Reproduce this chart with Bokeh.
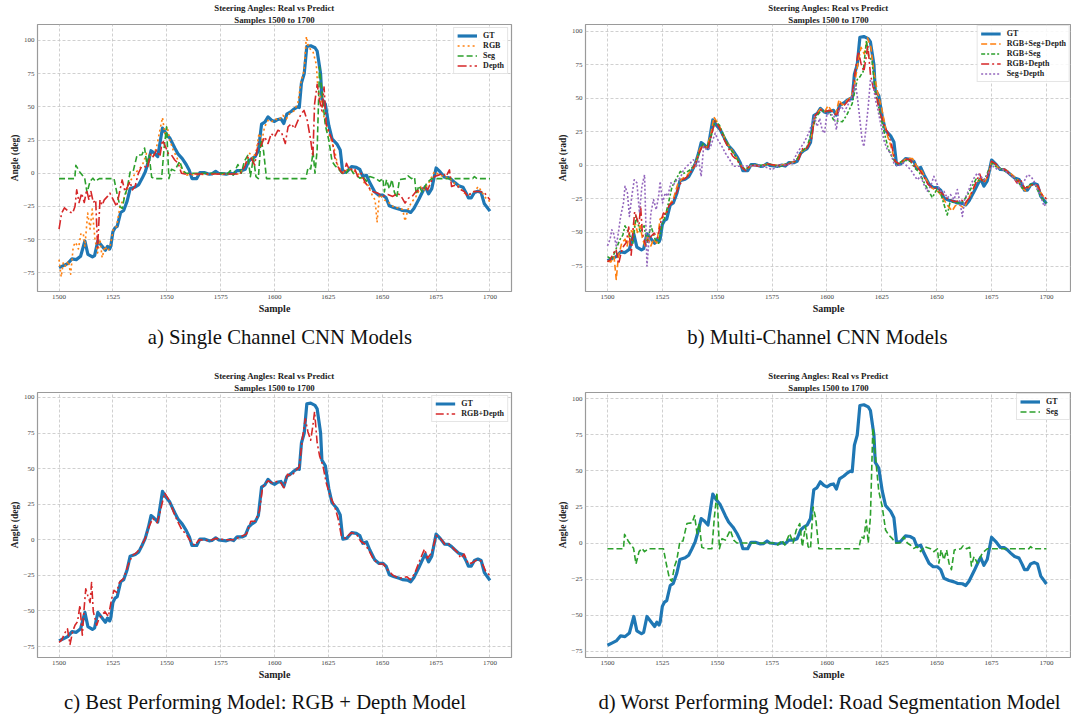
from bokeh.plotting import figure
from bokeh.models import Title, FixedTicker, Div, Range1d
from bokeh.layouts import column, row
from bokeh.embed import file_html
from bokeh.resources import INLINE

SERIF = "Liberation Serif"

# ---------------- data ----------------
x_ticks = [1500, 1525, 1550, 1575, 1600, 1625, 1650, 1675, 1700]
y_ticks = [-75, -50, -25, 0, 25, 50, 75, 100]

gt_x = [1500, 1502, 1504, 1506, 1508, 1510, 1512, 1513.4, 1515.5, 1516.5, 1518, 1520, 1521.5, 1522.5, 1523.5, 1524,
        1525, 1526, 1527, 1528.6, 1530, 1531.6, 1533, 1535.4, 1537, 1538.5, 1540, 1541.5, 1542.7, 1544, 1545.8,
        1548, 1549.6, 1551.4, 1553.7, 1555.2, 1557.2, 1559, 1560.5, 1561.7, 1563.9, 1565.4, 1567.4, 1569.7, 1571,
        1572.7, 1574, 1577.6, 1579.5, 1581, 1582.6, 1584.9, 1586.4, 1588, 1589.4, 1591, 1592.5, 1594, 1595.5, 1597,
        1598.6, 1600, 1601.6, 1603, 1604.3, 1605.7, 1607.7, 1609.2, 1610.7, 1611.5, 1612.5, 1613.8, 1615, 1616.8,
        1618.8, 1619.8, 1621.4, 1622, 1623.6, 1625.2, 1626.7, 1629, 1630.5, 1631.7, 1633.5, 1635.8, 1638, 1639.6,
        1641, 1642.7, 1644.2, 1646.5, 1648.4, 1650.3, 1651.8, 1653.3, 1655.6, 1657.9, 1659.4, 1661.7, 1663.2, 1664.7,
        1667, 1669.3, 1670, 1671.5, 1673, 1675, 1676.9, 1678.9, 1680.7, 1682.2, 1683.7, 1685.5, 1687.5, 1689, 1690,
        1691.3, 1692.8, 1694.4, 1695.9, 1697.4, 1700]
gt_y = [-71, -69.5, -68, -64.5, -65, -62.5, -51, -61, -63, -62, -51, -55, -58, -55, -57, -55,
        -44, -41, -40, -29.5, -28, -21, -11.5, -10.3, -8.5, -4, 1, 9, 17, 15.5, 12.5,
        34, 30, 26.5, 19, 14.6, 11, 6.6, 2, -4, -4, 0.5, 0.5, -0.7, -0.5,
        1.4, 0, -0.7, 0.2, -0.5, 2, 2, 3, 9, 11, 12.5, 17, 37, 38.5, 42.5,
        40, 39, 40.5, 41, 37.5, 44.5, 46.5, 48.5, 50, 49.5, 68, 75, 95.5, 96,
        94.5, 92, 75, 56, 52, 36, 26, 22, 17.5, 0.5, 1, 5, 4.5, 3,
        -2.5, -1.5, -7, -14, -16.5, -16.5, -18.5, -24.5, -26, -27, -28, -28.3, -29.5, -26.5,
        -19.5, -12, -10, -15.5, -11.5, 4, 1, -3, -3.2, -4.8, -7, -9.4, -10.5, -15, -18.5,
        -18.5, -14.5, -13.5, -14.5, -23, -28.5]

rgb_x = [1500, 1501, 1502, 1503.1, 1504.3, 1505.4, 1506.6, 1507.7, 1509, 1510.2, 1511.3, 1512, 1513.3, 1514.4,
         1515.4, 1516.7, 1517.9, 1519, 1520, 1521.3, 1522.5, 1523.6, 1525.2, 1526.7, 1528.3, 1529.8, 1531.4,
         1532.9, 1534.4, 1536, 1537.5, 1539, 1540.6, 1542.2, 1543.7, 1545.3, 1546.5, 1548, 1549.1, 1550.2, 1551.4,
         1553, 1554.5, 1556.1, 1557.6, 1559.2, 1570, 1583, 1584.6, 1586.9, 1588.5, 1590, 1591.6, 1592.8, 1594.2,
         1595.4, 1597, 1598.5, 1600.4, 1601.9, 1603.9, 1605.5, 1607, 1609.3, 1610.9, 1612.4, 1613.7, 1614.8, 1615.8,
         1617.8, 1619.4, 1620.2, 1621.4, 1623, 1624.5, 1626.3, 1627.9, 1629.4, 1631, 1632.5, 1634, 1636.4, 1638.4,
         1640.2, 1641.8, 1643.3, 1645.6, 1646.7, 1647.6, 1648.7, 1651, 1653.3, 1655.7, 1658, 1659.5, 1660.6, 1661.9,
         1663.4, 1665.7, 1668, 1669.6, 1671.9, 1674.2, 1676.5, 1678.8, 1681.2, 1683.5, 1685.8, 1688.1, 1690.4,
         1692.7, 1694.6, 1696.6, 1698.6, 1700]
rgb_y = [-65, -78, -67, -70, -66, -76, -55, -52, -57, -45, -46, -55, -30, -42,
         -27, -50, -60, -50, -63.5, -55, -58.5, -56, -42, -40, -25, -20, -13.7,
         -6.2, -2.5, 1.2, 3.7, 7.5, 15, 13.7, 12.5, 20, 30, 42, 30, 35, 25,
         17.4, 12.5, 6.2, 1.2, -1.2, -0.8, -0.5, 1.2, 7.5, 15, 11, 17.4, 30, 25,
         35, 39.8, 38.6, 41, 39.8, 43.6, 41, 44.8, 47.3, 53.5, 69.7, 77, 103, 94.6,
         92, 82, 62, 57, 42, 33.6, 25, 17.4, 5, 2.5, 0, 3.7, 2.5, 0,
         -2.5, -7.5, -8.7, -17.4, -20, -37, -16, -20, -22.4, -26, -26, -27.4, -36, -27.4,
         -22.4, -17.4, -10, -12.5, -6.2, 1.2, -1.2, -2.5, -3.7, -7.5, -10, -15, -16,
         -13.7, -10, -15, -20, -21]

seg_x = [1500, 1507.3, 1507.8, 1509.6, 1511.9, 1513, 1514.4, 1515.7, 1516.9, 1518.7, 1525.5, 1527, 1528.3, 1529.3,
         1530.6, 1531.6, 1533, 1534.4, 1536.2, 1538.5, 1539.7, 1540.8, 1541.8, 1543, 1544.6, 1547.6, 1548.7, 1549.9,
         1551, 1552.2, 1553.7, 1556, 1557.5, 1559, 1577, 1577.6, 1579.5, 1580.8, 1583, 1584.6, 1586, 1587.6, 1588.8,
         1590.2, 1591.4, 1592.5, 1593.7, 1594.9, 1596.3, 1614.5, 1615.6, 1616.8, 1617.9, 1618.8, 1619.8, 1620.9,
         1622, 1623.6, 1625.2, 1626.7, 1628.2, 1629.7, 1631.3, 1633.2, 1635, 1636.6, 1638, 1639.6, 1641, 1642.7,
         1644.2, 1647.2, 1648.7, 1650.3, 1651, 1652, 1653.3, 1654.5, 1655.6, 1656.7, 1658, 1661, 1662, 1663.6, 1665,
         1665.8, 1667, 1668.5, 1670.8, 1673, 1692, 1692.8, 1694, 1700]
seg_y = [-4, -4, 6, 1, -3.7, -14.5, -6, -3.7, -6, -4, -4, -16, -25, -26.5,
         -16, -11.7, 1, 1.4, 13.5, 14, 19, 6.6, 13.5, -3, -4, -4, 18, 35,
         -4, 3, 2, 9, 2, 0, 0, -1.4, 2, -1.4, 6.6, 0, 9, 13.5, -2.5,
         11.7, -2.5, -4, 25, 17, -4, -4, 4.3, 3.2, 16, 0, 18, 80,
         61.5, 36, 25, 9, 5.5, 3.2, 0, 0, 4.3, 0, -1.4, -3.7, -2.5, -6,
         -2.5, -4, -6, -4, -14, -4.8, -11.7, -4.8, -14, -18.5, -4.8, -4, -2, -4, -3,
         -16, -9.4, -14, -7, -4, -4, -2.5, -4, -4]

depth_x = [1500, 1501.2, 1502.5, 1504.3, 1506.3, 1507.4, 1508.2, 1509.3, 1510.5, 1511.7, 1512.8, 1513.9, 1514.8,
           1515.9, 1517, 1517.9, 1519, 1520, 1521, 1522.5, 1523.6, 1525.2, 1526.7, 1528.3, 1529.3, 1530.6, 1531.8,
           1532.9, 1534.1, 1535.3, 1536.8, 1538.3, 1539.8, 1541, 1542.5, 1543.7, 1545.3, 1546.8, 1548, 1549.4,
           1550.7, 1552.2, 1553.7, 1555.3, 1556.8, 1558.4, 1584, 1584.6, 1586.2, 1587.7, 1589.3, 1590.8, 1592.4,
           1593.6, 1595.4, 1597, 1598.5, 1600, 1601.6, 1603.2, 1605, 1606.3, 1607.8, 1609.3, 1610.9, 1612.4, 1613.7,
           1615.2, 1616.8, 1617.8, 1618.6, 1619.8, 1620.9, 1622, 1623, 1624, 1625.6, 1626.8, 1627.9, 1629.4, 1631,
           1632.2, 1633.4, 1634.8, 1637.1, 1638.7, 1640.2, 1641.8, 1643.3, 1645.6, 1648, 1650.3, 1652.6, 1654.9,
           1657.2, 1658.8, 1660.6, 1662.2, 1663.9, 1665.7, 1667.3, 1669.6, 1671.1, 1672.7, 1674.2, 1676.5, 1678.1,
           1679.6, 1681.2, 1682.2, 1684.2, 1686.6, 1688.1, 1689.7, 1691.2, 1692.7, 1695, 1697.3, 1700]
depth_y = [-42, -30, -26, -28.6, -30, -25, -12.5, -22, -15, -22, -12.5, -20, -13.7,
           -22, -20, -56, -20, -24, -20, -17.4, -15, -20, -25, -12.5, -5, -13.7, -10,
           -6.2, -12.5, -10, 0, 5, 5, 3.7, 15, 12.5, 17.4, 12.5, 25, 20,
           15, 13.7, 10, 7.5, 0, -0.5, -0.5, 1.2, 5, 12.5, 11, 6.2, 22.4,
           20, 27.4, 22.4, 30, 27.4, 32.4, 31, 22.4, 35, 37.3, 33.6, 39.8, 44.8, 47.3,
           39.8, 25, 12.5, 52, 67, 55, 47, 65, 37, 30, 25, 12.5, 5, 1,
           -0.5, 7.5, 2.5, 3.7, -2.5, 0, -6, -10, -13.7, -15, -17.4, -16, -17.4,
           -15, -17.4, -22.4, -18.7, -17.4, -13.7, -12.5, -10, -12.5, -6.2, -2.5, -1.2, 0,
           -2.5, 2.5, -10, -8.7, -12.5, -13.7, -17.4, -15, -13.7, -13.7, -14.4, -20]

rsd_x = [1500, 1501.5, 1503, 1504, 1505, 1506.5, 1508, 1509, 1510.3, 1511.6, 1512.6, 1513.7, 1514.9, 1516, 1517.2,
         1518.2, 1519.8, 1521, 1522.5, 1524, 1526, 1528, 1530, 1532, 1534, 1536, 1538, 1540, 1542, 1543, 1545,
         1547, 1548.5, 1550, 1552, 1554, 1556, 1558, 1560, 1562, 1564, 1566, 1570, 1573, 1576, 1580, 1583, 1586,
         1588, 1591, 1593, 1594.5, 1597, 1599, 1600.5, 1602, 1604, 1605.5, 1607, 1609, 1611, 1612.5, 1614, 1615.5,
         1617, 1618.5, 1620, 1621.5, 1623, 1625, 1627, 1629, 1631, 1633, 1636, 1639, 1641, 1643, 1645, 1647, 1649,
         1651, 1653, 1655, 1657, 1658.5, 1660, 1662.5, 1664, 1666, 1668, 1670, 1672, 1673.5, 1675, 1677, 1679, 1681,
         1683, 1685, 1687, 1689, 1690.5, 1692.5, 1694.5, 1696, 1698, 1700]
rsd_y = [-71, -72, -68, -85, -68, -58, -55, -60, -48, -50, -43, -50, -45, -55, -60,
         -52, -60, -55, -58, -40, -38, -30, -25, -14, -10, -8, -4, 0, 12, 15, 13,
         22, 36, 32, 26, 18, 13, 8, 2, -3, -2, 0.5, -0.5, 1, 0, 0.5, 2, 3,
         10, 13, 22, 37, 42, 40, 44.5, 41, 38, 49, 45, 48, 51, 60, 75, 88,
         83, 95, 88, 68, 55, 42, 25, 15, 3, 1, 5, 5, -1, -4, -10, -16, -18,
         -20, -25, -30, -34, -30, -29, -32, -26, -20, -13, -10, -12, -7, 3, 0, -3, -3,
         -5, -8, -11, -17, -19, -15, -14, -16, -22, -25]

rs_x = [1500, 1502, 1504, 1505.8, 1507, 1508, 1509.6, 1511.6, 1513, 1515, 1516.7, 1518, 1519.8, 1521.7, 1523.3,
        1524.8, 1526.3, 1527.8, 1529.4, 1531, 1533.2, 1534.5, 1536, 1538, 1540, 1542, 1543.5, 1545, 1547, 1549,
        1551, 1553, 1555, 1557, 1559, 1561, 1563, 1565, 1570, 1574, 1578, 1582, 1585, 1587, 1589, 1591, 1593,
        1595, 1597, 1599, 1601, 1603, 1605, 1607, 1609, 1611.5, 1613.8, 1615, 1616.5, 1618, 1619, 1620.5, 1622,
        1624, 1626, 1628, 1630, 1632, 1635, 1638, 1640, 1642, 1644, 1646, 1648, 1650, 1652, 1654.8, 1656, 1658,
        1660, 1662, 1664, 1666, 1668, 1670, 1672, 1674, 1675.5, 1677, 1680, 1683, 1685, 1687, 1689, 1691, 1693,
        1695, 1697, 1699, 1700]
rs_y = [-68, -70, -62, -55, -52, -45, -50, -58, -38, -50, -45, -58, -45, -55, -58,
        -45, -38, -28, -16, -11, -4.5, -6, -5, -3, 2, 10, 16, 13, 20, 33,
        30, 22, 15, 10, 5, -1, -3, 0, 0, 1, -1, 1.5, 2, 6, 11, 14, 25,
        36, 40, 41, 40, 34, 33, 32.5, 37.5, 46, 64, 66, 70, 93, 81, 78, 55,
        40, 25, 12, 5, 1, 4, 3, -2, -5, -12, -18, -24, -18, -22, -37, -28, -27,
        -28, -27, -22, -16, -10, -12, -10, -2, 2, -1, -3, -6, -9, -12, -17, -16, -14,
        -15, -22, -27, -28]

rd_x = [1500, 1501.2, 1502.5, 1503.9, 1505.1, 1506.3, 1507.4, 1508.6, 1509.7, 1510.8, 1511.7, 1512.4, 1513.3,
        1514.4, 1515.1, 1515.9, 1517.5, 1518.5, 1519.8, 1521.3, 1522.9, 1524.4, 1525.5, 1526.7, 1528, 1530, 1532,
        1534, 1536, 1538, 1540, 1542, 1543.5, 1545.5, 1547, 1549, 1551, 1553, 1555, 1557, 1559, 1561, 1563, 1565,
        1570, 1573, 1577, 1581, 1584, 1587, 1589, 1591, 1593, 1594.5, 1597, 1599, 1601, 1603, 1604.4, 1606, 1608,
        1610, 1611.5, 1613, 1614.3, 1615.5, 1616.8, 1617.8, 1618.6, 1619.8, 1621, 1622.5, 1624, 1626, 1627.9,
        1629.5, 1631, 1633, 1635.5, 1638, 1640, 1642, 1644, 1646, 1648.5, 1650.5, 1652.5, 1655, 1658, 1660, 1661.5,
        1663, 1665, 1667, 1669.6, 1671, 1673, 1675, 1677, 1679, 1681, 1683, 1685, 1686.5, 1688, 1690, 1692, 1694,
        1696, 1698, 1700]
rd_y = [-72, -70.5, -66, -62.5, -73.5, -64.5, -60, -57.5, -46, -67, -47, -34.5, -39,
        -44, -30, -50.5, -60, -55.5, -53, -50.5, -54, -41.5, -35.5, -37, -30, -27, -18,
        -11, -9, -5, 1, 10, 15, 12, 20, 33, 28, 20, 13, 7, 4, -1, -4, 0,
        -0.5, 1, 0, 0, 2, 4, 13, 13, 20, 37, 41.5, 40, 41, 40, 36.5, 46, 45,
        49, 51, 72, 85, 76, 70, 80, 90, 68, 58.5, 52, 40, 30, 23.7,
        15, 3, 1, 5, 4, -1, -3, -8, -14, -17, -17, -21, -25, -27, -26.5, -26,
        -28, -24, -16, -6.5, -13, -9, 3, 1, -3, -3, -6, -9, -13, -10, -17, -16, -14,
        -15, -22, -25]

sd_x = [1500, 1501.2, 1502, 1502.7, 1504, 1505, 1506, 1507.3, 1508, 1509.1, 1510, 1511.1, 1512.2, 1513.4, 1514.6,
        1515.7, 1516.9, 1518, 1518.7, 1519.8, 1521, 1522.2, 1523.3, 1524, 1525.1, 1526.3, 1527.5, 1528.9, 1530.1,
        1531.6, 1533.2, 1534.7, 1536.2, 1537.7, 1539.2, 1540.5, 1541.5, 1542.7, 1543.8, 1545.3, 1546.8, 1548,
        1549.1, 1550.3, 1552.2, 1553.7, 1555.7, 1557.5, 1559.3, 1570, 1575, 1578, 1584, 1586.4, 1589.4, 1591.7,
        1593.2, 1594.3, 1595.5, 1596.7, 1597.8, 1598.9, 1600, 1601.6, 1603.1, 1604.3, 1605.4, 1606.6, 1608, 1609.2,
        1610.7, 1612.2, 1613, 1614, 1615, 1616, 1616.8, 1617.7, 1618.8, 1619.8, 1621, 1622.1, 1623.2, 1624.4,
        1625.9, 1627.5, 1629, 1630.5, 1632, 1633.5, 1635, 1636.6, 1638.1, 1639.6, 1641.1, 1642.7, 1644.2, 1645.7,
        1647.2, 1648.7, 1650.3, 1651.8, 1653.3, 1654.8, 1656.3, 1657.9, 1659.4, 1660.6, 1661.7, 1662.7, 1664,
        1665.5, 1667, 1668.5, 1670, 1671.6, 1673.1, 1674.6, 1676.1, 1677.6, 1679.2, 1681.4, 1683.7, 1685.2, 1686.8,
        1688.3, 1689.8, 1691.3, 1692.9, 1694.4, 1695.9, 1697.4, 1698.9, 1700]
sd_y = [-60, -55, -48, -50, -60, -50, -38, -28, -15.6, -20.6, -38, -23, -10.7, -13, -35.4,
        -15.6, -7, -75, -60, -35.4, -25.5, -33, -23, -12, -28, -20.6, -23, -13, -14.4,
        -10.7, -9.4, -3.2, -0.7, 1.7, 4.2, -0.7, 4.2, -8.2, 14, 11.6, 12.9, 19,
        24, 19, 14, 9.2, 4.2, -0.7, -0.7, 0, -3.2, 0, 1, 9.2, 16.6, 24,
        31.5, 36.4, 29, 35, 26.5, 24, 39, 37.7, 37.7, 26.5, 41.4, 44, 40, 44,
        48.8, 56, 61, 48.8, 34, 19, 14, 26.5, 44, 63.7, 61, 48.8, 41.4, 31.5,
        19, 11.6, 9.2, 1.7, -0.7, 0.5, 1.7, -0.7, -3.2, -7, -10.7, -8.2, -14.4, -19.3,
        -15.6, -8.2, -14.4, -19.3, -19.3, -24.3, -21.8, -25.5, -18, -28, -38, -25.5, -20.6,
        -14.4, -9.4, -5.7, -8.2, -10.7, -7, -2, -0.7, -3.2, -2, -4.5, -7, -9.4, -13,
        -15.6, -12, -7, -8.2, -12, -18, -23, -30.5, -28]

C0, C1, C2, C3, C4 = "#1f77b4", "#ff7f0e", "#2ca02c", "#d62728", "#9467bd"

STYLES = {
    "GT": dict(color=C0, line_width=3.2, line_dash="solid"),
    "RGB": dict(color=C1, line_width=1.6, line_dash="2 3"),
    "Seg": dict(color=C2, line_width=1.6, line_dash="6 3"),
    "Depth": dict(color=C3, line_width=1.6, line_dash="9 3 2 3"),
    "RGB+Seg+Depth": dict(color=C1, line_width=1.6, line_dash="6 3"),
    "RGB+Seg": dict(color=C2, line_width=1.6, line_dash="4 2 2 2"),
    "RGB+Depth": dict(color=C3, line_width=1.6, line_dash="8 3 2 3"),
    "Seg+Depth": dict(color=C4, line_width=1.6, line_dash="2 2"),
}


def make_panel(width, height, top, x_end, right_border, yrange, ylabel, series, legend_margin):
    p = figure(width=width, height=height, output_backend="svg", toolbar_location=None, title=None,
               x_range=Range1d(1490, x_end), y_range=Range1d(*yrange),
               min_border_left=37, min_border_right=right_border,
               min_border_top=top, min_border_bottom=23)
    p.add_layout(Title(text="Samples 1500 to 1700", align="center", text_font=SERIF,
                       text_font_size="8.8px", text_font_style="bold", standoff=0, offset=0,
                       text_color="#222222"), "above")
    p.add_layout(Title(text="Steering Angles: Real vs Predict", align="center", text_font=SERIF,
                       text_font_size="8.8px", text_font_style="bold", standoff=0, offset=0,
                       text_color="#222222"), "above")
    for name, xs, ys in series:
        st = STYLES[name]
        p.line(xs, ys, legend_label=name, line_color=st["color"], line_width=st["line_width"],
               line_dash=st["line_dash"], line_join="round")
    for ax, ticks in ((p.xaxis, x_ticks), (p.yaxis, y_ticks)):
        ax.ticker = FixedTicker(ticks=ticks)
        ax.major_label_text_font = SERIF
        ax.major_label_text_font_size = "7px"
        ax.major_label_text_color = "#444444"
        ax.axis_label_text_font = SERIF
        ax.axis_label_text_font_style = "bold"
        ax.axis_label_text_color = "#222222"
        ax.axis_line_color = None
        ax.major_tick_line_color = None
        ax.minor_tick_line_color = None
        ax.major_tick_out = 0
        ax.major_tick_in = 0
        ax.major_label_standoff = 3
        ax.axis_label_standoff = 1
    p.xaxis.axis_label = "Sample"
    p.xaxis.axis_label_text_font_size = "10px"
    p.yaxis.axis_label = ylabel
    p.yaxis.axis_label_text_font_size = "9.5px"
    p.grid.grid_line_color = "#c4c4c4"
    p.grid.grid_line_width = 0.8
    p.grid.grid_line_dash = "3 2"
    p.outline_line_color = "#9a9a9a"
    p.outline_line_width = 1.2
    lg = p.legend[0]
    lg.location = "top_right"
    lg.label_text_font = SERIF
    lg.label_text_font_style = "bold"
    lg.label_text_font_size = "8px"
    lg.label_text_color = "#222222"
    lg.glyph_width = 20
    lg.glyph_height = 9
    lg.label_height = 9
    lg.label_standoff = 6
    lg.spacing = 1
    lg.padding = 3
    lg.margin = legend_margin
    lg.border_line_color = "#cccccc"
    lg.background_fill_alpha = 0.85
    return p


def caption(text, width, height, pad_top, shift):
    html = ('<div style="width:%dpx;text-align:center;font-family:\'Liberation Serif\',\'Times New Roman\',serif;'
            'font-size:20.7px;color:#111;padding-top:%dpx;position:relative;left:%dpx;white-space:nowrap">%s</div>'
            % (width, pad_top, shift, text))
    return Div(text=html, width=width, height=height, margin=0)


# left panels: frame 37..511 (474 px); right panels: frame 585..1071 (486 px, same scale)
pa = make_panel(548, 316, 24, 1710, 37, (-89, 112), "Angle (deg)",
                [("GT", gt_x, gt_y), ("RGB", rgb_x, rgb_y), ("Seg", seg_x, seg_y), ("Depth", depth_x, depth_y)], 3)
pb = make_panel(523, 316, 24, 1711.4, 0, (-94, 105), "Angle (rad)",
                [("GT", gt_x, gt_y), ("RGB+Seg+Depth", rsd_x, rsd_y), ("RGB+Seg", rs_x, rs_y),
                 ("RGB+Depth", rd_x, rd_y), ("Seg+Depth", sd_x, sd_y)], 1)
pc = make_panel(548, 317, 27, 1710, 37, (-82.7, 103.5), "Angle (deg)",
                [("GT", gt_x, gt_y), ("RGB+Depth", rd_x, rd_y)], 3)
pd_ = make_panel(523, 317, 27, 1711.4, 0, (-79.5, 104.5), "Angle (deg)",
                 [("GT", gt_x, gt_y), ("Seg", seg_x, seg_y)], 1)

ca = caption("a) Single Channel CNN Models", 548, 49, 7, 6)
cb = caption("b) Multi-Channel CNN Models", 523, 49, 7, 8)
cc = caption("c) Best Performing Model: RGB + Depth Model", 548, 36, 6, -9)
cd = caption("d) Worst Performing Model: Road Segmentation Model", 523, 36, 6, 20)

layout = column(row(pa, pb, spacing=0), row(ca, cb, spacing=0),
                row(pc, pd_, spacing=0), row(cc, cd, spacing=0), spacing=0)

open("out.html", "w").write(file_html(layout, INLINE))
